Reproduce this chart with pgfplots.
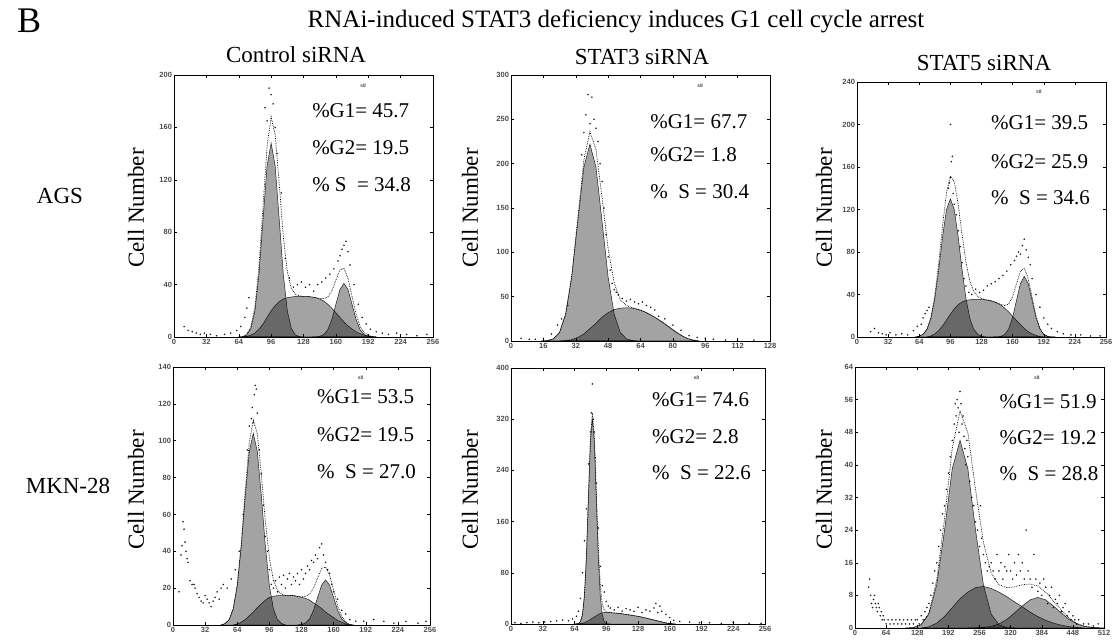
\documentclass[border=0pt]{standalone}
\usepackage{fontspec}
\setmainfont{Liberation Serif}
\setsansfont{Liberation Sans}
\usepackage{pgfplots}
\pgfplotsset{compat=1.18}
\pgfplotsset{
 flow/.style={scale only axis, anchor=south west, ymin=0, xmin=0,
   axis line style={line width=0.7pt}, tick style={black, line width=0.5pt}, major tick length=3pt,
   tick label style={font=\fontsize{7.5}{7.5}\sffamily\bfseries, text=black!70},
   /pgf/number format/assume math mode=true, /pgf/number format/1000 sep={},
   xticklabel style={yshift=1.5pt}, yticklabel style={xshift=1.5pt}},
 comp/.style={fill=black, fill opacity=0.36, draw=black, draw opacity=0.85, line width=0.5pt},
 tot/.style={black, densely dotted, line width=0.7pt},
 pts/.style={only marks, mark=*, mark size=0.6pt, black, opacity=0.75},
}
\newcommand{\annot}[2]{\node[anchor=west, font=\fontsize{21}{24}\selectfont, inner sep=0pt] at (rel axis cs:#1) {#2};}
\newcommand{\sviii}[1]{\node[font=\fontsize{5}{5}\sffamily\bfseries, text=black!70] at (rel axis cs:#1) {s8};}
\begin{document}
\begin{tikzpicture}
\useasboundingbox (0pt,0pt) rectangle (1116pt,640pt);
% titles
\node[anchor=west, font=\fontsize{36}{40}\selectfont, inner sep=0pt] at (17pt,619pt) {B};
\node[font=\fontsize{25}{28}\selectfont, inner sep=0pt] at (616pt,619pt) {RNAi-induced STAT3 deficiency induces G1 cell cycle arrest};
\node[font=\fontsize{23}{26}\selectfont, inner sep=0pt] at (296pt,585pt) {Control siRNA};
\node[font=\fontsize{23}{26}\selectfont, inner sep=0pt] at (642pt,583pt) {STAT3 siRNA};
\node[font=\fontsize{23}{26}\selectfont, inner sep=0pt] at (984pt,577pt) {STAT5 siRNA};
\node[font=\fontsize{23}{26}\selectfont, inner sep=0pt] at (60pt,444pt) {AGS};
\node[font=\fontsize{23}{26}\selectfont, inner sep=0pt] at (68pt,154pt) {MKN-28};
\foreach \xx in {136,470,824}{
  \node[rotate=90, font=\fontsize{23}{26}\selectfont, inner sep=0pt] at (\xx pt,432pt) {Cell Number};
  \node[rotate=90, font=\fontsize{23}{26}\selectfont, inner sep=0pt] at (\xx pt,150pt) {Cell Number};
}

% ---------- Panel 1: AGS Control ----------
\begin{axis}[flow, at={(174pt,303pt)}, width=259pt, height=262pt,
  xmax=256, ymax=200, xtick={0,32,...,256}, ytick={0,40,...,200}]
\addplot[comp] coordinates {(68,0)(72,0.5)(76,1.5)(80,3)(84,6)(88,10)(92,15)(96,20)(100,24)(104,27)(108,29)(112,30)(116,30.5)(120,31)(124,31)(128,31)(132,31)(136,30.5)(140,30)(144,29)(148,27.5)(152,25)(156,22)(160,18.5)(164,15)(168,11.5)(172,8.5)(176,6)(180,4)(184,2.5)(188,1.5)(192,0.8)(196,0.3)(200,0)} \closedcycle;
\addplot[comp] coordinates {(64,0)(68,0.3)(72,1.6)(76,6.5)(80,20)(84,48.1)(88,89.8)(92,130.6)(96,148)(100,130.6)(104,89.8)(108,48.1)(112,20)(116,6.5)(120,1.6)(124,0.3)(128,0)} \closedcycle;
\addplot[comp] coordinates {(136,0)(140,0.1)(144,0.5)(148,1.8)(152,5.5)(156,13.3)(160,24.9)(164,36.2)(168,41)(172,36.2)(176,24.9)(180,13.3)(184,5.5)(188,1.8)(192,0.5)(196,0.1)(200,0)} \closedcycle;
\addplot[tot] coordinates {(64,0)(68,0.3)(72,2.1)(76,8)(80,23)(84,54.1)(88,99.8)(92,145.6)(96,168)(100,154.6)(104,116.8)(108,77.1)(112,50)(116,37)(120,32.6)(124,31.3)(128,31)(132,31)(136,30.5)(140,30.1)(144,29.5)(148,29.3)(152,30.5)(156,35.3)(160,43.4)(164,51.2)(168,52.5)(172,44.7)(176,30.9)(180,17.3)(184,8)(188,3.3)(192,1.3)(196,0.4)(200,0)};
\addplot[pts] coordinates {(10,8)(14,5)(18,4)(22,3)(26,2)(30,3)(36,2)(42,1)(50,2)(56,3)(62,5)(66,8)(70,15)(72,22)(74,30)(90,175)(94,190)(96,185)(98,178)(92,165)(100,160)(102,140)(106,110)(110,60)(114,45)(118,38)(122,40)(126,42)(130,38)(134,40)(138,35)(142,40)(146,42)(150,45)(154,48)(158,52)(162,58)(164,62)(166,67)(168,70)(170,73)(172,65)(174,55)(178,40)(182,25)(186,15)(190,10)(194,6)(200,4)(206,3)(212,2)(220,3)(230,2)(240,1)(250,2)};
\sviii{0.73,0.96}
\annot{0.533,0.863}{\%G1= 45.7}
\annot{0.533,0.721}{\%G2= 19.5}
\annot{0.533,0.58}{\% S\ \ = 34.8}
\end{axis}

% ---------- Panel 2: AGS STAT3 ----------
\begin{axis}[flow, at={(511pt,299pt)}, width=259pt, height=266pt,
  xmax=128, ymax=300, xtick={0,16,...,128}, ytick={0,50,...,300}]
\addplot[comp] coordinates {(24,0)(27,0.5)(30,1.5)(33,4)(36,8)(39,14)(42,20)(45,27)(48,32)(51,35.5)(54,37)(57,37.5)(60,37)(63,35.5)(66,33)(69,29.5)(72,25.5)(75,21)(78,16)(81,11)(84,6.5)(87,3)(90,1)(93,0)} \closedcycle;
\addplot[comp] coordinates {(15,0)(18,0.5)(21,2.5)(24,9.7)(27,30)(30,72.1)(33,134.6)(36,195.9)(39,222)(42,195.9)(45,134.6)(48,72.1)(51,30)(54,9.7)(57,2.5)(60,0.5)(63,0)} \closedcycle;
\addplot[tot] coordinates {(15,0)(18,0.5)(21,2.5)(24,9.7)(27,30.5)(30,73.6)(33,138.6)(36,203.9)(39,236)(42,215.9)(45,161.6)(48,104.1)(51,65.5)(54,46.7)(57,40)(60,37.5)(63,35.5)(66,33)(69,29.5)(72,25.5)(75,21)(78,16)(81,11)(84,6.5)(87,3)(90,1)(93,0)};
\addplot[pts] coordinates {(38,278)(40,275)(37,255)(41,250)(39,245)(36,235)(43,225)(42,240)(35,210)(44,200)(45,180)(46,150)(47,120)(48,95)(49,80)(50,65)(51,58)(52,55)(53,52)(55,48)(57,45)(59,47)(61,44)(63,42)(65,44)(67,40)(69,38)(71,35)(73,28)(76,25)(80,18)(84,12)(88,6)(92,4)(96,3)(100,2)(106,1)(112,1)(120,1)(5,3)(9,2)(12,2)(16,3)(20,8)(23,18)(25,25)(28,40)};
\sviii{0.73,0.96}
\annot{0.537,0.823}{\%G1= 67.7}
\annot{0.537,0.70}{\%G2= 1.8}
\annot{0.537,0.56}{\%\ \ S = 30.4}
\end{axis}

% ---------- Panel 3: AGS STAT5 ----------
\begin{axis}[flow, at={(857pt,303pt)}, width=249pt, height=255pt,
  xmax=256, ymax=240, xtick={0,32,...,256}, ytick={0,40,...,240}]
\addplot[comp] coordinates {(72,0)(76,1)(80,3)(84,6)(88,10.5)(92,16)(96,21.5)(100,26.5)(104,30.5)(108,33)(112,34.5)(116,35)(120,35.5)(124,35.5)(128,35.5)(132,35)(136,34.5)(140,33.5)(144,32)(148,30)(152,27)(156,23.5)(160,19.5)(164,15.5)(168,11.5)(172,8)(176,5)(180,3)(184,1.5)(188,0.5)(192,0)} \closedcycle;
\addplot[comp] coordinates {(60,0)(64,0.8)(68,2.6)(72,7.3)(76,17.6)(80,36.1)(84,63.3)(88,94.4)(92,120)(96,130)(100,120)(104,94.4)(108,63.3)(112,36.1)(116,17.6)(120,7.3)(124,2.6)(128,0.8)(132,0)} \closedcycle;
\addplot[comp] coordinates {(140,0)(144,0.1)(148,0.6)(152,2.5)(156,7.7)(160,18.5)(164,34.6)(168,50.3)(172,57)(176,50.3)(180,34.6)(184,18.5)(188,7.7)(192,2.5)(196,0.6)(200,0.1)(204,0)} \closedcycle;
\addplot[tot] coordinates {(60,0)(64,0.8)(68,2.6)(72,7.3)(76,18.6)(80,39.1)(84,69.3)(88,104.9)(92,136)(96,151.5)(100,146.5)(104,124.9)(108,96.3)(112,70.6)(116,52.6)(120,42.8)(124,38.1)(128,36.3)(132,35)(136,34.5)(140,33.5)(144,32.1)(148,30.6)(152,29.5)(156,31.2)(160,38)(164,50.1)(168,61.8)(172,65)(176,55.3)(180,37.6)(184,20)(188,8.2)(192,2.5)(196,0.6)(200,0.1)(204,0)};
\addplot[pts] coordinates {(14,5)(18,8)(22,4)(26,3)(30,2)(34,4)(40,2)(46,3)(52,2)(58,6)(62,10)(66,12)(68,18)(70,22)(72,25)(74,28)(94,140)(96,150)(97,165)(98,170)(96,200)(95,145)(99,135)(100,125)(102,115)(104,100)(106,85)(108,70)(110,55)(112,48)(115,42)(118,40)(122,45)(126,42)(130,44)(134,48)(138,50)(142,52)(146,55)(150,58)(154,62)(158,68)(162,72)(164,76)(166,80)(168,78)(170,86)(172,92)(174,82)(176,75)(178,68)(180,55)(184,40)(188,28)(192,18)(196,12)(200,8)(206,5)(212,3)(220,2)(230,2)(240,1)(250,1)};
\sviii{0.73,0.96}
\annot{0.538,0.84}{\%G1= 39.5}
\annot{0.538,0.686}{\%G2= 25.9}
\annot{0.538,0.545}{\%\ \ S = 34.6}
\end{axis}

% ---------- Panel 4: MKN-28 Control ----------
\begin{axis}[flow, at={(173pt,15pt)}, width=257pt, height=258pt,
  xmax=256, ymax=140, xtick={0,32,...,256}, ytick={0,20,...,140}]
\addplot[comp] coordinates {(60,0)(64,0.5)(68,1.5)(72,3)(76,5)(80,7)(84,9.5)(88,11.5)(92,13.5)(96,15)(100,15.5)(104,16)(108,16)(112,16)(116,16)(120,16)(124,15.5)(128,15)(132,14.5)(136,13.5)(140,12)(144,10.5)(148,9)(152,7)(156,5.5)(160,4)(164,2.5)(168,1.5)(172,0.5)(176,0)} \closedcycle;
\addplot[comp] coordinates {(48,0)(52,0.8)(56,3)(60,8.8)(64,21.4)(68,42.7)(72,70.1)(76,94.2)(80,104)(84,94.2)(88,70.1)(92,42.7)(96,21.4)(100,8.8)(104,3)(108,0.8)(112,0)} \closedcycle;
\addplot[comp] coordinates {(124,0)(128,0.3)(132,1.1)(136,3.3)(140,8)(144,14.9)(148,21.6)(152,24.5)(156,21.6)(160,14.9)(164,8)(168,3.3)(172,1.1)(176,0.3)(180,0)} \closedcycle;
\addplot[tot] coordinates {(48,0)(52,0.8)(56,3)(60,8.8)(64,21.9)(68,44.2)(72,73.1)(76,99.2)(80,111)(84,103.7)(88,81.6)(92,56.2)(96,36.4)(100,24.3)(104,19)(108,16.8)(112,16)(116,16)(120,16)(124,15.5)(128,15.3)(132,15.6)(136,16.8)(140,20)(144,25.4)(148,30.6)(152,31.5)(156,27.1)(160,18.9)(164,10.5)(168,4.8)(172,1.6)(176,0.3)(180,0)};
\addplot[pts] coordinates {(6,18)(8,38)(9,43)(10,56)(11,52)(12,45)(13,40)(14,36)(15,34)(17,24)(19,22)(21,22)(22,20)(24,17)(26,15)(28,13)(30,12)(32,16)(34,14)(36,12)(38,10)(40,13)(42,15)(44,18)(46,14)(48,20)(50,22)(54,20)(58,25)(62,30)(66,40)(70,60)(74,95)(76,108)(78,112)(79,118)(80,110)(81,125)(82,130)(83,128)(84,115)(86,95)(88,82)(90,65)(92,48)(94,40)(96,30)(98,22)(100,20)(102,24)(104,18)(106,26)(108,22)(110,27)(112,20)(114,25)(116,28)(118,22)(120,26)(122,24)(124,28)(126,22)(128,30)(130,25)(132,28)(134,32)(136,30)(138,35)(140,34)(142,38)(144,36)(146,42)(148,44)(150,38)(152,34)(154,30)(156,28)(158,22)(160,18)(164,14)(168,8)(172,6)(176,3)(182,2)(190,2)(200,3)(210,2)(220,1)(232,2)(244,1)(252,2)};
\sviii{0.73,0.96}
\annot{0.56,0.884}{\%G1= 53.5}
\annot{0.56,0.736}{\%G2= 19.5}
\annot{0.56,0.593}{\%\ \ S = 27.0}
\end{axis}

% ---------- Panel 5: MKN-28 STAT3 ----------
\begin{axis}[flow, at={(511pt,16pt)}, width=254pt, height=256pt,
  xmax=256, ymax=400, xtick={0,32,...,256}, ytick={0,80,...,400}]
\addplot[comp] coordinates {(66,0)(68,0.2)(70,0.5)(72,1.2)(74,2)(76,3.5)(78,5)(80,7)(82,9)(84,11)(86,13)(88,15)(90,16.5)(92,17.5)(94,18)(96,18)(98,18)(102,17.5)(106,17)(110,16.5)(114,15.5)(118,14.5)(122,13.5)(126,12.5)(130,11.5)(134,10)(138,8.5)(142,7)(146,5.5)(150,4)(154,2.5)(158,1.2)(162,0.5)(166,0)} \closedcycle;
\addplot[comp] coordinates {(64,0)(66,0.1)(68,0.7)(70,3.6)(72,14.1)(74,43.4)(76,104.2)(78,194.7)(80,283.3)(82,321)(84,283.3)(86,194.7)(88,104.2)(90,43.4)(92,14.1)(94,3.6)(96,0.7)(98,0.1)(100,0)} \closedcycle;
\addplot[tot] coordinates {(64,0)(66,0.1)(68,0.9)(70,4.1)(72,15.3)(74,45.4)(76,107.7)(78,199.7)(80,290.3)(82,330)(84,294.3)(86,207.7)(88,119.2)(90,59.9)(92,31.6)(94,21.6)(96,18.7)(98,18.1)(102,17.5)(106,17)(110,16.5)(114,15.5)(118,14.5)(122,13.5)(126,12.5)(130,11.5)(134,10)(138,8.5)(142,7)(146,5.5)(150,4)(154,2.5)(158,1.2)(162,0.5)(166,0)};
\addplot[pts] coordinates {(4,2)(10,1)(16,2)(22,3)(28,2)(34,3)(40,4)(46,5)(52,6)(58,5)(62,8)(66,12)(68,20)(70,40)(72,80)(74,130)(76,180)(78,250)(80,300)(81,330)(82,375)(83,320)(84,300)(85,260)(86,220)(88,150)(90,90)(92,60)(94,50)(96,35)(98,28)(100,25)(104,22)(108,26)(112,20)(116,24)(120,22)(124,20)(128,26)(132,18)(136,22)(140,20)(144,25)(146,32)(148,18)(150,28)(152,20)(156,15)(160,10)(164,6)(170,4)(180,3)(190,2)(200,2)(212,1)(224,2)(240,1)(252,1)};
\sviii{0.73,0.96}
\annot{0.555,0.875}{\%G1= 74.6}
\annot{0.555,0.73}{\%G2= 2.8}
\annot{0.555,0.59}{\%\ \ S = 22.6}
\end{axis}

% ---------- Panel 6: MKN-28 STAT5 ----------
\begin{axis}[flow, at={(855pt,12pt)}, width=249pt, height=261pt,
  xmax=512, ymax=64, xtick={0,64,...,512}, ytick={0,8,...,64}]
\addplot[comp] coordinates {(136,0)(152,0.3)(168,1.2)(184,2.8)(200,5)(216,7.2)(232,8.8)(248,9.9)(264,10.2)(280,9.7)(296,8.8)(312,7.7)(328,6.4)(344,5.2)(360,3.9)(376,2.8)(392,1.9)(408,1.2)(424,0.7)(440,0.35)(456,0.15)(472,0)} \closedcycle;
\addplot[comp] coordinates {(104,0)(120,0.1)(136,0.8)(152,3.4)(168,10.6)(184,23.9)(200,39.1)(216,46)(232,39.1)(248,23.9)(264,10.6)(280,3.4)(296,0.8)(312,0.1)(328,0)} \closedcycle;
\addplot[comp] coordinates {(232,0)(248,0.05)(264,0.15)(280,0.4)(296,1)(312,2.1)(328,3.7)(344,5.4)(360,6.9)(376,7.5)(392,6.9)(408,5.4)(424,3.7)(440,2.1)(456,1)(472,0.4)(488,0.15)(504,0.05)(512,0)} \closedcycle;
\addplot[tot] coordinates {(104,0)(120,0.1)(136,0.8)(152,3.7)(168,11.8)(184,26.7)(200,44.1)(216,53.2)(232,47.9)(248,33.8)(264,21)(280,13.5)(296,10.6)(312,9.9)(328,10.1)(344,10.6)(360,10.8)(376,10.3)(392,8.8)(408,6.6)(424,4.4)(440,2.45)(456,1.15)(472,0.4)(488,0.15)(504,0.05)};
\addplot[pts] coordinates {(28,10)(30,12)(32,8)(34,6)(36,5)(38,7)(40,8)(42,6)(44,5)(46,4)(48,6)(50,5)(52,3)(54,4)(56,2)(58,3)(60,2)(64,1)(68,2)(72,1)(76,2)(80,1)(84,2)(88,1)(92,2)(96,1)(100,2)(104,1)(108,2)(112,1)(116,2)(120,1)(124,2)(128,2)(132,1)(136,3)(140,2)(144,4)(148,5)(152,6)(156,8)(160,11)(164,14)(168,16)(172,20)(176,24)(180,28)(184,30)(188,34)(192,38)(196,42)(200,46)(204,50)(206,55)(208,52)(210,56)(212,54)(214,48)(216,58)(218,55)(220,50)(222,52)(224,47)(226,44)(228,40)(230,46)(232,42)(236,36)(240,32)(244,30)(248,26)(252,24)(256,20)(258,30)(260,22)(264,18)(268,16)(272,14)(276,15)(280,16)(284,14)(288,12)(292,18)(296,14)(300,16)(304,12)(308,15)(312,14)(316,18)(320,14)(324,12)(328,16)(332,13)(336,18)(340,14)(344,16)(348,12)(352,24)(356,14)(360,12)(364,10)(368,18)(372,12)(376,9)(380,11)(384,8)(388,12)(392,10)(396,6)(400,8)(404,10)(408,5)(412,7)(416,6)(420,8)(424,4)(428,5)(432,6)(436,3)(440,4)(444,2)(448,3)(452,2)(456,1)(460,2)(470,1)(480,1)(490,0.5)(500,1)};
\sviii{0.73,0.96}
\annot{0.58,0.866}{\%G1= 51.9}
\annot{0.58,0.728}{\%G2= 19.2}
\annot{0.58,0.59}{\%\ \ S = 28.8}
\end{axis}
\end{tikzpicture}
\end{document}
